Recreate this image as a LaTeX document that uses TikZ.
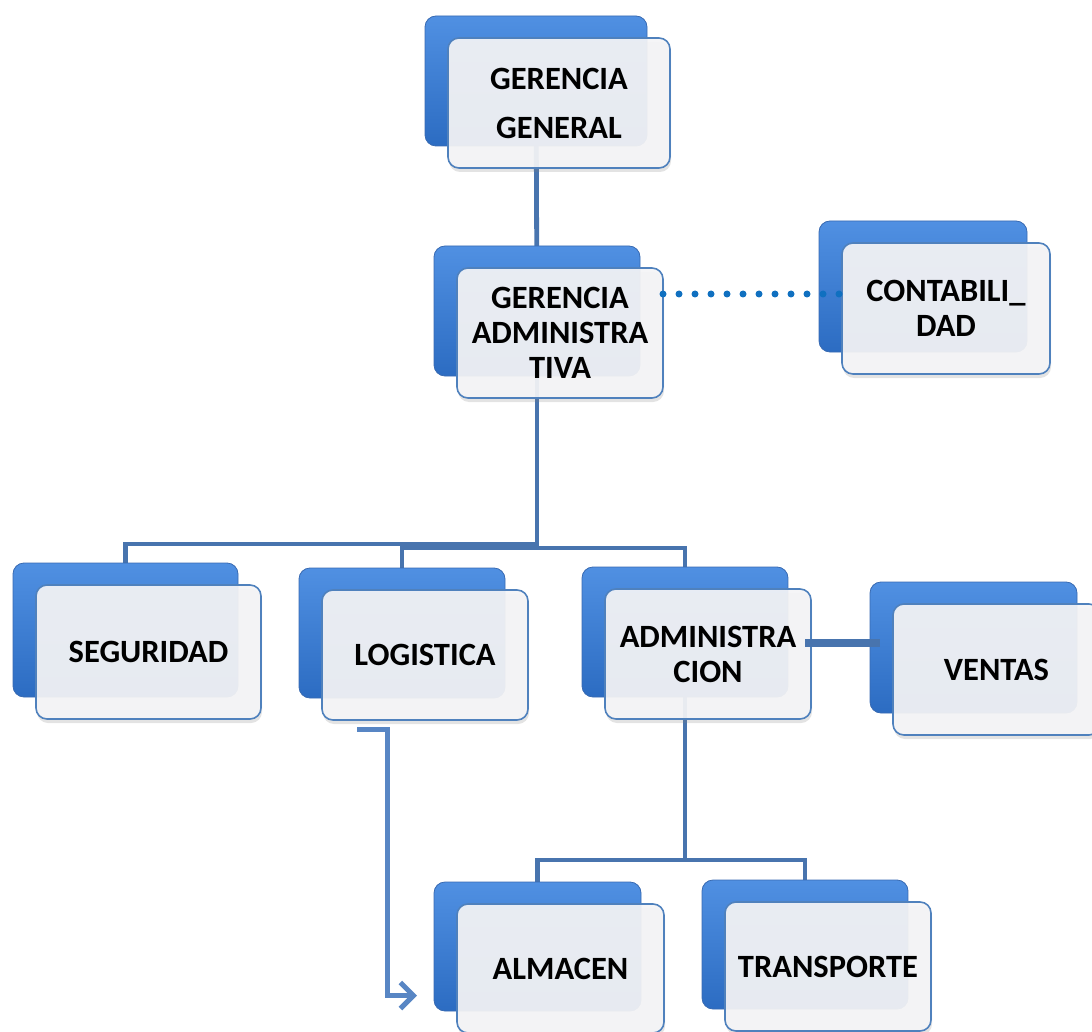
\documentclass[tikz,border=0pt]{standalone}
\usepackage{fontspec}
\setmainfont{Carlito}
\usetikzlibrary{calc,arrows.meta,shadows}
\pgfdeclarelayer{background}
\pgfsetlayers{background,main}

\definecolor{boxtop}{RGB}{80,144,226}
\definecolor{boxbot}{RGB}{44,108,194}
\definecolor{boxedge}{RGB}{56,106,178}
\definecolor{cardfill}{RGB}{244,244,246}
\definecolor{cardedge}{RGB}{79,129,189}
\definecolor{linkblue}{RGB}{72,116,174}
\definecolor{arrowblue}{RGB}{88,134,196}
\definecolor{dotblue}{RGB}{16,112,192}

\tikzset{
  backbox/.style={rectangle, rounded corners=11pt, top color=boxtop, bottom color=boxbot,
    draw=boxedge, line width=0.8pt, inner sep=0pt, outer sep=0pt, anchor=north west},
  frontbox/.style={rectangle, rounded corners=11pt, fill=cardfill, fill opacity=0.93,
    text opacity=1, draw=cardedge, line width=1.6pt, inner sep=0pt, outer sep=0pt,
    anchor=north west, align=center, font=\fontsize{32.5}{35}\selectfont\bfseries,
    drop shadow={shadow xshift=1pt, shadow yshift=-4pt, opacity=0.22}},
  link/.style={draw=linkblue, line width=4.8pt},
  arrowlink/.style={draw=arrowblue, line width=5pt, -{Straight Barb[length=13pt,width=26pt]}},
  dotline/.style={draw=dotblue, line width=7pt, line cap=round, dash pattern=on 0pt off 16pt}
}

% one unit of the chart: a shaded back tile and a translucent card in front of it
\newcommand\orgunit[6]{%
  \node[backbox, minimum width=#4, minimum height=#5] (#1B) at (#2,#3) {};
  \node[frontbox, minimum width=#4, minimum height=#5] (#1) at ($(#1B.north west)+(23,22)$) {#6};
}

\begin{document}
\begin{tikzpicture}[x=1pt,y=-1pt]
\useasboundingbox (0,0) rectangle (1092,1032);

\orgunit{gg}{425}{16}{222}{130}{GERENCIA\\[14pt]GENERAL}
\orgunit{ga}{434}{246}{206}{130}{GERENCIA\\ADMINISTRA\\TIVA}
\orgunit{con}{819}{221}{208}{131}{CONTABILI\_\\DAD}
\orgunit{seg}{13}{563}{225}{134}{SEGURIDAD}
\orgunit{log}{299}{568}{206}{130}{LOGISTICA}
\orgunit{adm}{582}{567}{206}{130}{ADMINISTRA\\CION}
\orgunit{ven}{870}{582}{207}{131}{VENTAS}
\orgunit{alm}{434}{882}{207}{129}{ALMACEN}
\orgunit{tra}{702}{880}{206}{129}{TRANSPORTE}

% tree connectors, behind the tiles
\begin{pgfonlayer}{background}
  \draw[link] (ggB.center) -- (gaB.center);
  \coordinate (busA) at (gaB.center |- 0,544);
  \coordinate (busB) at (gaB.center |- 0,548);
  \draw[link] (gaB.center) -- (busB);
  \draw[link] (segB.center) |- (busA);
  \draw[link] (logB.center) |- (busB) -| (admB.center);
  \coordinate (busC) at (admB.center |- 0,860);
  \draw[link] (admB.center) -- (busC);
  \draw[link] (almB.center) |- (busC) -| (traB.center);
\end{pgfonlayer}

% staff line to accounting
\coordinate (dS) at (ga.east |- 0,294);
\draw[dotline] (dS) -- (con.west |- dS);

% side link to sales
\coordinate (vS) at ($(adm.east)+(-6,-11)$);
\draw[link, line width=8pt] (vS) -- ($(vS -| venB.west)+(10,0)$);

% arrow from logistics to the warehouse
\coordinate (arrS) at ($(log.south west)+(35,9)$);
\coordinate (arrE) at ($(almB.west)+(-17,49)$);
\draw[arrowlink] (arrS) -- ++(30,0) |- (arrE);
\end{tikzpicture}
\end{document}
